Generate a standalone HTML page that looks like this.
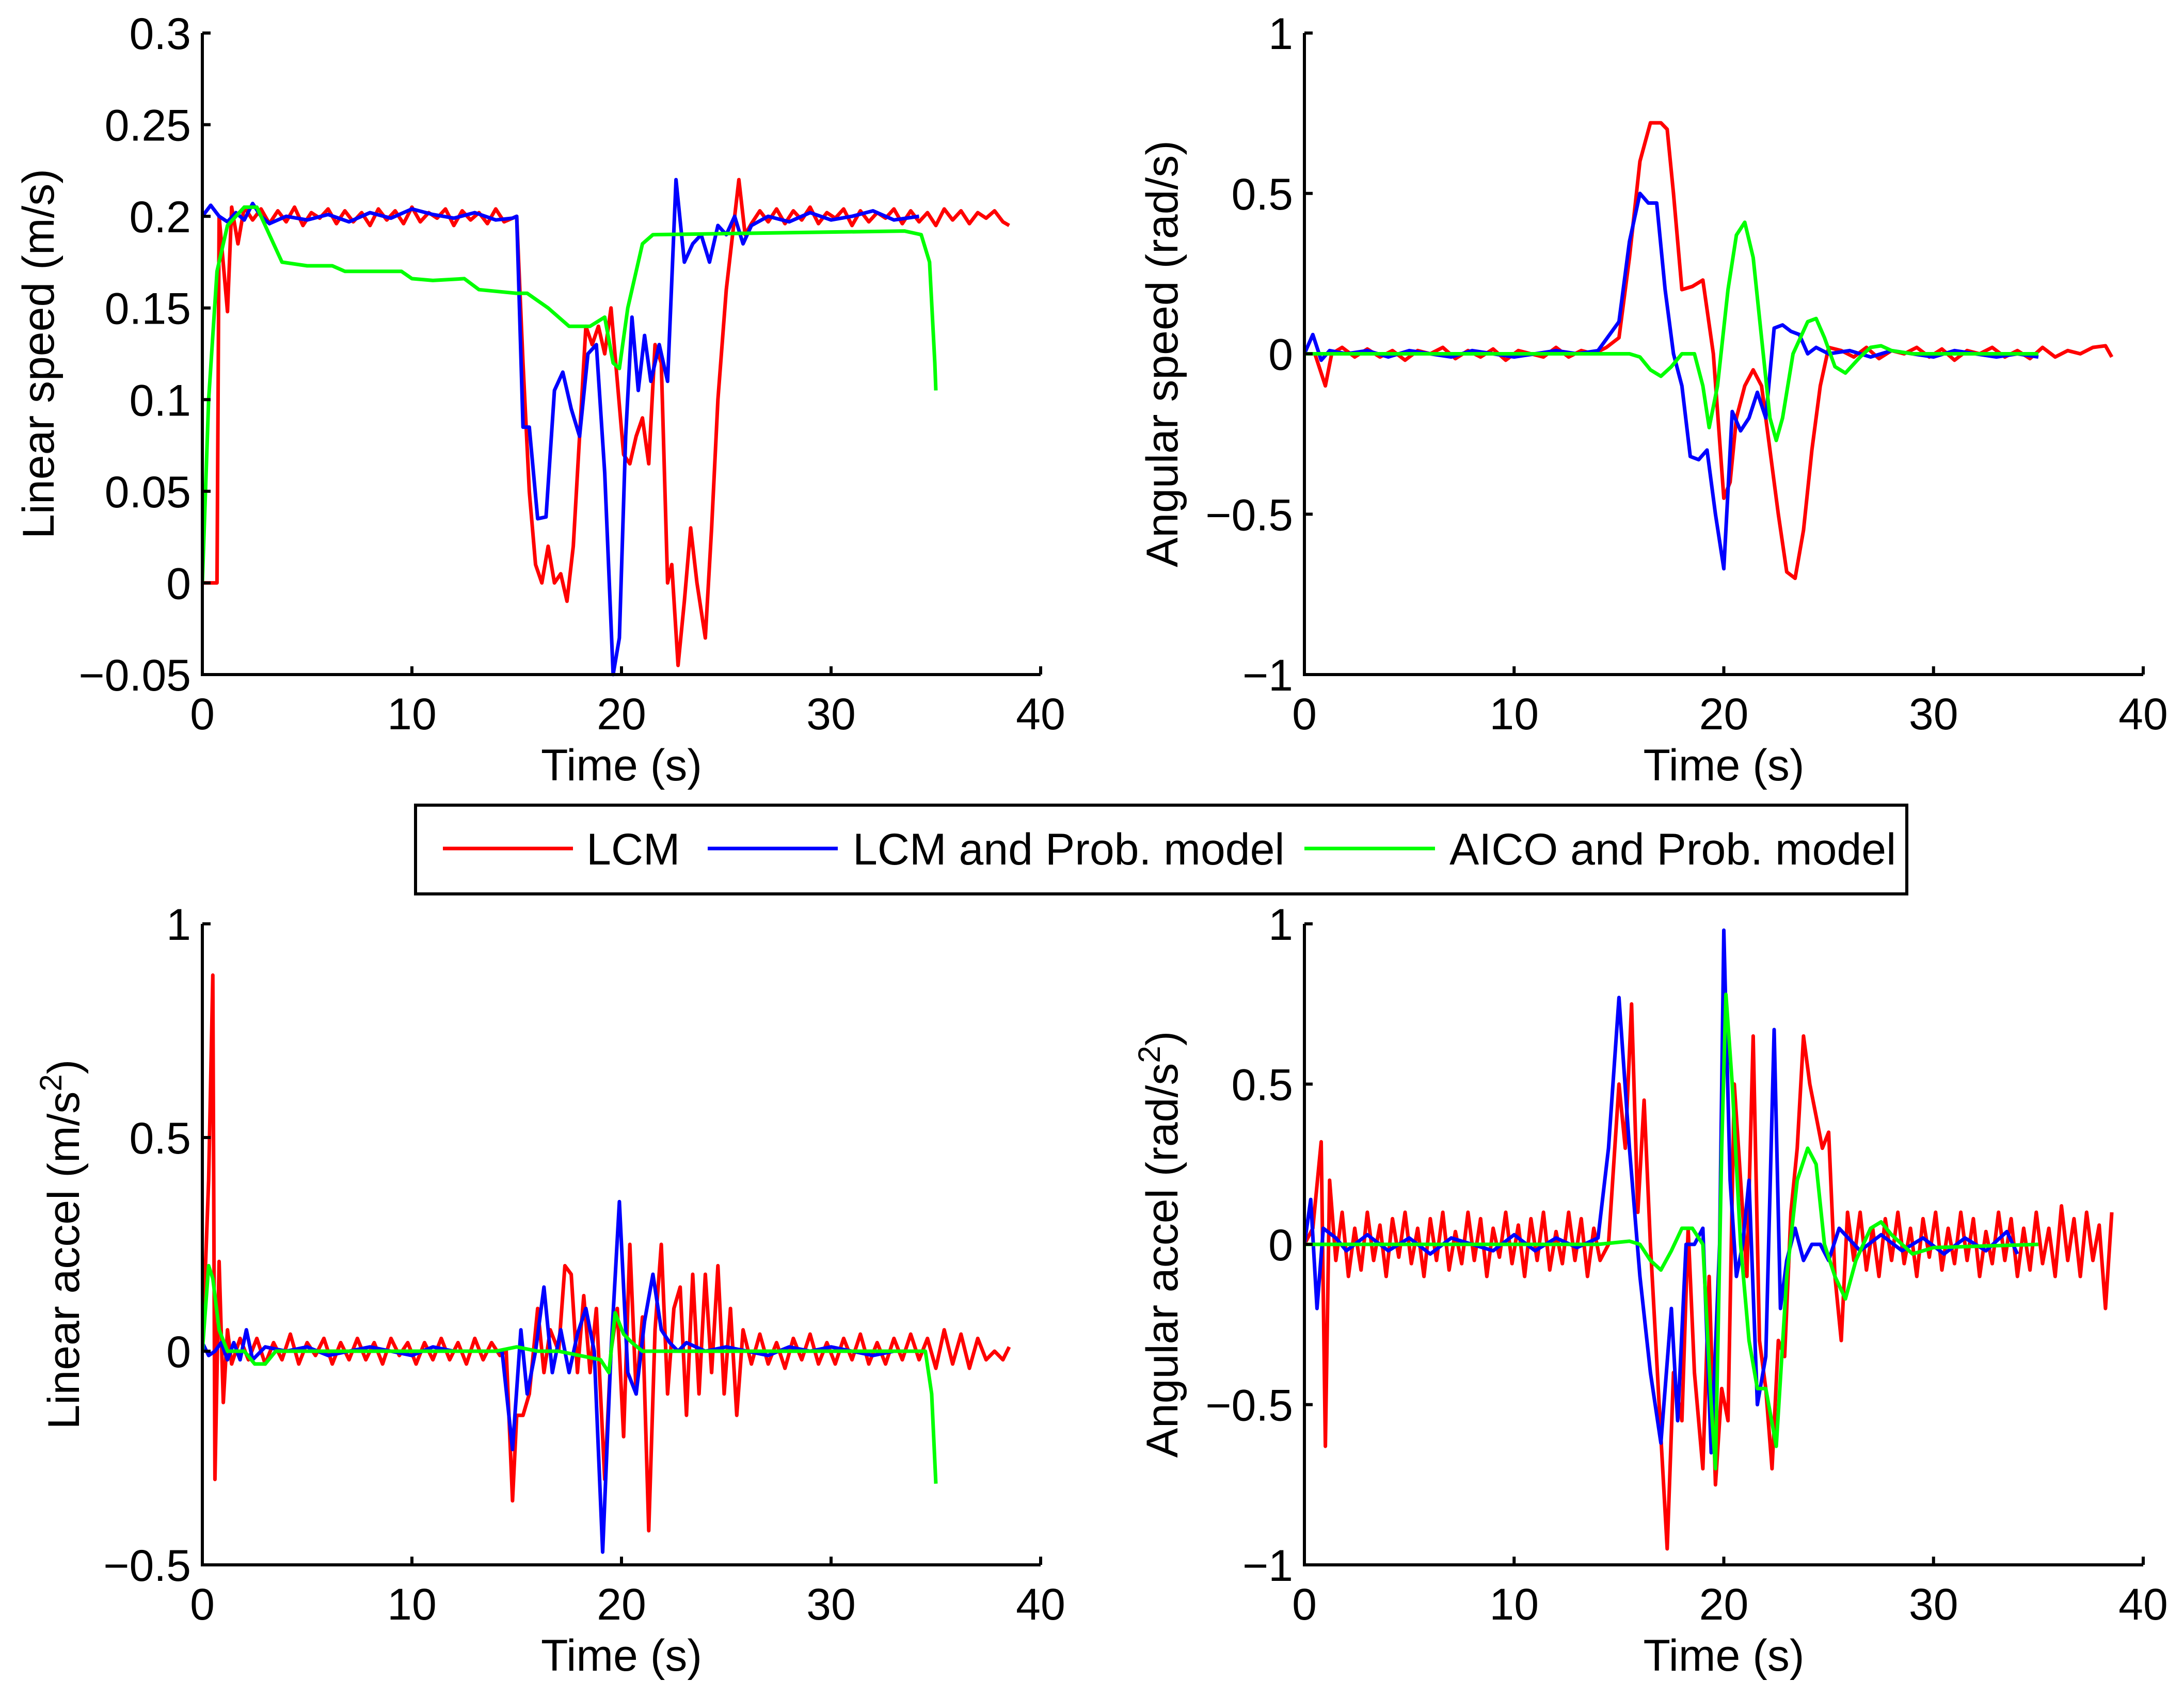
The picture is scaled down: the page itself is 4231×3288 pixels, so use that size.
<!DOCTYPE html>
<html><head><meta charset="utf-8"><style>
html,body{margin:0;padding:0;background:#fff;}
svg{display:block;font-family:"Liberation Sans",Arial,sans-serif;}
</style></head>
<body>
<svg id="fig" width="4231" height="3288" viewBox="0 0 4231 3288" xmlns="http://www.w3.org/2000/svg">
<rect width="4231" height="3288" fill="#fff"/>
<g id="legend">
<rect x="805" y="1560" width="2889" height="172" fill="#fff" stroke="#000" stroke-width="6"/>
<line x1="858" y1="1644" x2="1110" y2="1644" stroke="#ff0000" stroke-width="7"/>
<text x="1136" y="1675" font-size="86">LCM</text>
<line x1="1371" y1="1644" x2="1623" y2="1644" stroke="#0000ff" stroke-width="7"/>
<text x="1652" y="1675" font-size="86">LCM and Prob. model</text>
<line x1="2527" y1="1644" x2="2780" y2="1644" stroke="#00ff00" stroke-width="7"/>
<text x="2808" y="1675" font-size="86">AICO and Prob. model</text>
</g>
</svg>
<script>
// ---------- DATA ----------
// Panel 1: Linear speed
const p1RedT=[0,0.7,0.8,1.2,1.4,1.7,2.0,2.4,2.8,3.2,3.6,4.0,4.4,4.8,5.2,5.6,6.0,6.4,6.8,7.2,7.6,8.0,8.4,8.8,9.2,9.6,10.0,10.4,10.8,11.2,11.6,12.0,12.4,12.8,13.2,13.6,14.0,14.4,14.8,15.0,15.3,15.6,15.9,16.2,16.5,16.8,17.1,17.4,17.7,18.0,18.3,18.6,18.9,19.2,19.5,19.8,20.1,20.4,20.7,21.0,21.3,21.6,21.9,22.2,22.4,22.7,23.0,23.3,23.6,24.0,24.3,24.6,25.0,25.3,25.6,25.9,26.2,26.6,27.0,27.4,27.8,28.2,28.6,29.0,29.4,29.8,30.2,30.6,31.0,31.4,31.8,32.2,32.6,33.0,33.4,33.8,34.2,34.6,35.0,35.4,35.8,36.2,36.6,37.0,37.4,37.8,38.2,38.5];
const p1RedV=[0,0,0.2,0.148,0.205,0.185,0.205,0.198,0.204,0.196,0.203,0.197,0.205,0.195,0.202,0.199,0.204,0.196,0.203,0.197,0.202,0.195,0.204,0.198,0.203,0.196,0.205,0.197,0.202,0.199,0.204,0.195,0.203,0.198,0.202,0.196,0.204,0.197,0.199,0.2,0.12,0.05,0.01,0.0,0.02,0.0,0.005,-0.01,0.02,0.08,0.14,0.13,0.14,0.125,0.15,0.11,0.07,0.065,0.08,0.09,0.065,0.13,0.12,0.0,0.01,-0.045,-0.01,0.03,0.0,-0.03,0.03,0.1,0.16,0.19,0.22,0.19,0.196,0.203,0.197,0.204,0.196,0.203,0.198,0.205,0.196,0.202,0.199,0.204,0.195,0.203,0.197,0.202,0.199,0.204,0.196,0.203,0.197,0.202,0.195,0.204,0.198,0.203,0.196,0.202,0.199,0.203,0.197,0.195];
const p1BlueT=[0,0.4,0.8,1.2,1.6,2.0,2.4,2.8,3.2,4,5,6,7,8,9,10,11,12,13,14,14.8,15.0,15.3,15.6,16.0,16.4,16.8,17.2,17.6,18.0,18.4,18.8,19.2,19.6,19.9,20.2,20.5,20.8,21.1,21.4,21.8,22.2,22.6,23.0,23.4,23.8,24.2,24.6,25.0,25.4,25.8,26.2,27,28,29,30,31,32,33,34.2];
const p1BlueV=[0.2,0.206,0.2,0.197,0.202,0.198,0.207,0.2,0.196,0.2,0.198,0.201,0.197,0.202,0.199,0.204,0.201,0.199,0.202,0.198,0.199,0.2,0.085,0.085,0.035,0.036,0.105,0.115,0.095,0.08,0.125,0.13,0.06,-0.05,-0.03,0.08,0.145,0.105,0.135,0.11,0.13,0.11,0.22,0.175,0.185,0.19,0.175,0.195,0.19,0.2,0.185,0.195,0.2,0.197,0.202,0.198,0.2,0.203,0.198,0.2];
const p1GreenT=[0,0.3,0.7,1.2,2,2.6,3.2,3.8,5,6.2,6.8,9.5,10,11,12.5,13.2,15,15.5,16.5,17.5,18.5,19.2,19.6,19.9,20.3,21,21.5,33.5,34.3,34.7,34.95,35.0];
const p1GreenV=[0,0.1,0.17,0.195,0.205,0.205,0.19,0.175,0.173,0.173,0.17,0.17,0.166,0.165,0.166,0.16,0.158,0.158,0.15,0.14,0.14,0.145,0.12,0.117,0.15,0.185,0.19,0.192,0.19,0.175,0.12,0.105];
// Panel 2: Angular speed
const p2RedT=[0,0.5,1.0,1.3,1.8,2.4,3,3.6,4.2,4.8,5.4,6,6.6,7.2,7.8,8.4,9,9.6,10.2,10.8,11.4,12,12.6,13.2,13.8,14.4,15,15.5,16,16.5,17,17.3,17.6,18,18.5,19,19.5,20,20.3,20.6,21,21.4,21.8,22.2,22.6,23,23.4,23.8,24.2,24.6,25,25.6,26.2,26.8,27.4,28,28.6,29.2,29.8,30.4,31,31.6,32.2,32.8,33.4,34,34.6,35.2,35.8,36.4,37,37.6,38.2,38.5];
const p2RedV=[0,0.0,-0.1,0.0,0.02,-0.01,0.015,-0.01,0.01,-0.02,0.01,0.0,0.02,-0.015,0.01,-0.01,0.015,-0.02,0.01,0.0,-0.01,0.02,-0.01,0.01,0.0,0.02,0.05,0.3,0.6,0.72,0.72,0.7,0.5,0.2,0.21,0.23,0.0,-0.45,-0.4,-0.2,-0.1,-0.05,-0.1,-0.3,-0.5,-0.68,-0.7,-0.55,-0.3,-0.1,0.02,0.01,-0.01,0.02,-0.015,0.01,0.0,0.02,-0.01,0.015,-0.02,0.01,0.0,0.02,-0.01,0.01,-0.015,0.02,-0.01,0.01,0.0,0.02,0.025,-0.01];
const p2BlueT=[0,0.4,0.8,1.2,2,3,4,5,6,7,8,9,10,11,12,13,14,15,15.5,16,16.4,16.8,17.2,17.6,18.0,18.4,18.8,19.2,19.6,20.0,20.4,20.8,21.2,21.6,22.0,22.4,22.8,23.2,23.6,24.0,24.4,25,26,27,28,29,30,31,32,33,34,35];
const p2BlueV=[0,0.06,-0.02,0.01,0.0,0.01,-0.01,0.01,0.0,-0.01,0.01,0.0,-0.01,0.0,0.01,0.0,0.01,0.1,0.35,0.5,0.47,0.47,0.2,0.0,-0.1,-0.32,-0.33,-0.3,-0.5,-0.67,-0.18,-0.24,-0.2,-0.12,-0.2,0.08,0.09,0.07,0.06,0.0,0.02,0.0,0.01,-0.01,0.01,0.0,-0.01,0.01,0.0,-0.01,0.0,-0.01];
const p2GreenT=[0,5,10,15.5,16,16.5,17,17.5,18,18.6,19,19.3,19.7,20.2,20.6,21.0,21.4,21.8,22.2,22.5,22.8,23.3,24,24.4,24.8,25.3,25.8,26.5,27,27.5,28,29,35];
const p2GreenV=[0,0,0,0,-0.01,-0.05,-0.07,-0.04,0,0,-0.1,-0.23,-0.1,0.2,0.37,0.41,0.3,0.05,-0.2,-0.27,-0.2,0,0.1,0.11,0.05,-0.04,-0.06,-0.01,0.02,0.025,0.01,0,0];
// Panel 3: Linear accel
const p3RedT=[0,0.3,0.5,0.6,0.8,1.0,1.2,1.4,1.8,2.2,2.6,3,3.4,3.8,4.2,4.6,5,5.4,5.8,6.2,6.6,7,7.4,7.8,8.2,8.6,9,9.4,9.8,10.2,10.6,11,11.4,11.8,12.2,12.6,13,13.4,13.8,14.2,14.5,14.8,15.0,15.3,15.6,16,16.3,16.6,17,17.3,17.6,17.9,18.2,18.5,18.8,19.2,19.5,19.8,20.1,20.4,20.7,21.0,21.3,21.6,21.9,22.2,22.5,22.8,23.1,23.4,23.7,24,24.3,24.6,24.9,25.2,25.5,25.8,26.2,26.6,27,27.4,27.8,28.2,28.6,29,29.4,29.8,30.2,30.6,31,31.4,31.8,32.2,32.6,33,33.4,33.8,34.2,34.6,35,35.4,35.8,36.2,36.6,37,37.4,37.8,38.2,38.5];
const p3RedV=[0,0.4,0.88,-0.3,0.21,-0.12,0.05,-0.03,0.03,-0.02,0.03,-0.03,0.02,-0.02,0.04,-0.03,0.02,-0.01,0.03,-0.03,0.02,-0.02,0.03,-0.02,0.02,-0.03,0.03,-0.01,0.02,-0.03,0.02,-0.02,0.03,-0.02,0.02,-0.03,0.03,-0.02,0.02,-0.01,0.0,-0.35,-0.15,-0.15,-0.1,0.1,-0.05,0.05,0.0,0.2,0.18,-0.05,0.13,-0.05,0.1,-0.3,0.0,0.1,-0.2,0.25,-0.1,0.08,-0.42,0.05,0.25,-0.1,0.1,0.15,-0.15,0.18,-0.1,0.18,-0.05,0.2,-0.1,0.1,-0.15,0.05,-0.03,0.04,-0.03,0.02,-0.04,0.03,-0.02,0.04,-0.03,0.02,-0.03,0.03,-0.02,0.04,-0.03,0.02,-0.03,0.03,-0.02,0.04,-0.02,0.03,-0.04,0.05,-0.03,0.04,-0.04,0.03,-0.02,0.0,-0.02,0.01];
const p3BlueT=[0,0.3,0.6,0.9,1.2,1.5,1.8,2.1,2.4,3,4,5,6,7,8,9,10,11,12,13,14.3,14.8,15.2,15.5,15.9,16.3,16.7,17.1,17.5,17.9,18.3,18.7,19.1,19.5,19.9,20.3,20.7,21.1,21.5,21.9,22.3,22.7,23.1,24,25,26,27,28,29,30,31,32,33,34.2];
const p3BlueV=[0.02,-0.01,0,0.02,-0.02,0.02,-0.02,0.05,-0.02,0.01,0,0.01,-0.01,0,0.01,0,-0.01,0.01,0,0,0,-0.23,0.05,-0.1,0,0.15,-0.05,0.05,-0.05,0.04,0.1,0,-0.47,0,0.35,-0.05,-0.1,0.07,0.18,0.05,0.02,0,0.02,0,0.01,0,-0.01,0.01,0,0.01,0,-0.01,0,0];
const p3GreenT=[0,0.3,0.5,0.8,1.2,2,2.5,3,3.5,14,15,16,17,18,19,19.4,19.7,20.1,20.5,21,34.5,34.8,35];
const p3GreenV=[0,0.2,0.17,0.05,0,0,-0.03,-0.03,0,0,0.01,0,0,-0.01,-0.02,-0.05,0.09,0.04,0.02,0,0,-0.1,-0.31];
// Panel 4: Angular accel
const p4RedT=[0,0.4,0.8,1.0,1.2,1.5,1.8,2.1,2.4,2.7,3,3.3,3.6,3.9,4.2,4.5,4.8,5.1,5.4,5.7,6,6.3,6.6,6.9,7.2,7.5,7.8,8.1,8.4,8.7,9,9.3,9.6,9.9,10.2,10.5,10.8,11.1,11.4,11.7,12,12.3,12.6,12.9,13.2,13.5,13.8,14.1,14.5,15,15.3,15.6,15.9,16.2,16.5,17.0,17.3,17.6,18,18.3,18.6,19,19.3,19.6,19.9,20.2,20.5,20.8,21.1,21.4,21.7,22.0,22.3,22.6,22.9,23.2,23.5,23.8,24.1,24.4,24.7,25.0,25.3,25.6,25.9,26.2,26.5,26.8,27.1,27.4,27.7,28,28.3,28.6,28.9,29.2,29.5,29.8,30.1,30.4,30.7,31,31.3,31.6,31.9,32.2,32.5,32.8,33.1,33.4,33.7,34,34.3,34.6,34.9,35.2,35.5,35.8,36.1,36.4,36.7,37,37.3,37.6,37.9,38.2,38.5];
const p4RedV=[0,0.05,0.32,-0.63,0.2,-0.05,0.1,-0.1,0.05,-0.08,0.1,-0.05,0.06,-0.1,0.08,-0.04,0.1,-0.06,0.05,-0.1,0.08,-0.05,0.1,-0.08,0.04,-0.06,0.1,-0.05,0.08,-0.1,0.05,-0.04,0.1,-0.06,0.06,-0.1,0.08,-0.05,0.1,-0.08,0.04,-0.06,0.1,-0.05,0.08,-0.1,0.05,-0.05,0.0,0.5,0.3,0.75,0.1,0.45,0.0,-0.6,-0.95,-0.4,-0.55,0.05,-0.4,-0.7,-0.1,-0.75,-0.45,-0.55,0.5,0.2,-0.1,0.65,-0.3,-0.45,-0.7,-0.3,-0.35,0.1,0.3,0.65,0.5,0.4,0.3,0.35,-0.1,-0.3,0.1,-0.05,0.1,-0.08,0.05,-0.1,0.08,-0.05,0.1,-0.06,0.05,-0.1,0.08,-0.04,0.1,-0.08,0.05,-0.06,0.1,-0.05,0.08,-0.1,0.04,-0.06,0.1,-0.05,0.08,-0.1,0.05,-0.08,0.1,-0.06,0.05,-0.1,0.12,-0.05,0.08,-0.1,0.1,-0.05,0.06,-0.2,0.1];
const p4BlueT=[0,0.3,0.6,0.9,1.5,2,3,4,5,6,7,8,9,10,11,12,13,14,14.5,15.0,15.5,16.0,16.5,17.0,17.5,17.8,18.2,18.6,19.0,19.4,19.8,20.0,20.3,20.6,20.9,21.2,21.6,22.0,22.4,22.7,23.0,23.4,23.8,24.2,24.6,25,25.5,26.5,27.5,28.5,29.5,30.5,31.5,32.5,33.5,34];
const p4BlueV=[0,0.14,-0.2,0.05,0.02,-0.02,0.03,-0.02,0.02,-0.03,0.02,0,-0.02,0.03,-0.02,0.02,-0.01,0.02,0.3,0.77,0.3,-0.1,-0.4,-0.62,-0.2,-0.55,0,0,0.05,-0.65,0,0.98,0.2,-0.1,0,0.2,-0.5,-0.35,0.67,-0.2,-0.05,0.05,-0.05,0,0,-0.05,0.05,-0.02,0.03,-0.02,0.02,-0.03,0.02,-0.02,0.04,-0.03];
const p4GreenT=[0,14,15.5,16,16.5,17,17.5,18,18.5,19,19.4,19.6,19.9,20.1,20.4,20.8,21.2,21.6,22.0,22.5,23.0,23.5,24,24.4,24.8,25.3,25.8,26.3,27,27.5,28,29,30,35];
const p4GreenV=[0,0,0.01,0,-0.05,-0.08,-0.02,0.05,0.05,0,-0.5,-0.7,0.3,0.78,0.5,0,-0.3,-0.45,-0.45,-0.63,-0.1,0.2,0.3,0.25,0,-0.1,-0.17,-0.05,0.05,0.07,0.03,-0.03,-0.01,0];
const xTicks=[0,10,20,30,40];
const p1YTicks=[-0.05,0,0.05,0.1,0.15,0.2,0.25,0.3];
const p1YLabels=["\u22120.05","0","0.05","0.1","0.15","0.2","0.25","0.3"];
const p2YTicks=[-1,-0.5,0,0.5,1];
const p2YLabels=["\u22121","\u22120.5","0","0.5","1"];
const p3YTicks=[-0.5,0,0.5,1];
const p3YLabels=["\u22120.5","0","0.5","1"];
const p4YTicks=[-1,-0.5,0,0.5,1];
const p4YLabels=["\u22121","\u22120.5","0","0.5","1"];

// ---------- RENDER ----------
const NS="http://www.w3.org/2000/svg";
const svg=document.getElementById('fig');
function mk(tag,attrs,parent){const e=document.createElementNS(NS,tag);for(const k in attrs)e.setAttribute(k,attrs[k]);(parent||svg).appendChild(e);return e;}
const panels=[
 {name:'linear-speed',x0:392,x1:2016,y0:64,y1:1307,ymin:-0.05,ymax:0.3,yt:p1YTicks,yl:p1YLabels,title:'Linear speed (m/s)',sup:null,labX:73,
  series:[[p1RedT,p1RedV,'#ff0000','lcm'],[p1BlueT,p1BlueV,'#0000ff','lcm-prob'],[p1GreenT,p1GreenV,'#00ff00','aico-prob']]},
 {name:'angular-speed',x0:2527,x1:4152,y0:64,y1:1307,ymin:-1,ymax:1,yt:p2YTicks,yl:p2YLabels,title:'Angular speed (rad/s)',sup:null,labX:2250,
  series:[[p2RedT,p2RedV,'#ff0000','lcm'],[p2BlueT,p2BlueV,'#0000ff','lcm-prob'],[p2GreenT,p2GreenV,'#00ff00','aico-prob']]},
 {name:'linear-accel',x0:392,x1:2016,y0:1790,y1:3032,ymin:-0.5,ymax:1,yt:p3YTicks,yl:p3YLabels,title:'Linear accel (m/s',sup:'2',labX:122,
  series:[[p3RedT,p3RedV,'#ff0000','lcm'],[p3BlueT,p3BlueV,'#0000ff','lcm-prob'],[p3GreenT,p3GreenV,'#00ff00','aico-prob']]},
 {name:'angular-accel',x0:2527,x1:4152,y0:1790,y1:3032,ymin:-1,ymax:1,yt:p4YTicks,yl:p4YLabels,title:'Angular accel (rad/s',sup:'2',labX:2250,
  series:[[p4RedT,p4RedV,'#ff0000','lcm'],[p4BlueT,p4BlueV,'#0000ff','lcm-prob'],[p4GreenT,p4GreenV,'#00ff00','aico-prob']]}
];
panels.forEach(p=>{
  const g=mk('g',{});
  
  
  const sx=t=>p.x0+(t-0)/(40-0)*(p.x1-p.x0);
  const sy=v=>p.y1-(v-p.ymin)/(p.ymax-p.ymin)*(p.y1-p.y0);
  const cid='clip-'+p.name;
  const cp=mk('clipPath',{id:cid},g);
  mk('rect',{x:p.x0,y:p.y0-4,width:p.x1-p.x0+4,height:p.y1-p.y0+8},cp);
  p.series.forEach(s=>{
    const pts=s[0].map((t,i)=>sx(t).toFixed(1)+','+sy(s[1][i]).toFixed(1)).join(' ');
    const pl=mk('polyline',{points:pts,fill:'none',stroke:s[2],'stroke-width':7,'stroke-linejoin':'round','clip-path':'url(#'+cid+')'},g);
    
    
  });
  const ax=mk('path',{d:`M${p.x0},${p.y0} L${p.x0},${p.y1} L${p.x1},${p.y1}`,fill:'none',stroke:'#000','stroke-width':6},g);
  
  
  xTicks.forEach(t=>{
    const x=sx(t);
    mk('line',{x1:x,y1:p.y1,x2:x,y2:p.y1-16,stroke:'#000','stroke-width':6},g);
    const tx=mk('text',{x:x,y:p.y1+106,'font-size':86,'text-anchor':'middle'},g);
    tx.textContent=String(t);
    
    
  });
  p.yt.forEach((v,i)=>{
    const y=sy(v);
    mk('line',{x1:p.x0,y1:y,x2:p.x0+16,y2:y,stroke:'#000','stroke-width':6},g);
    const ty=mk('text',{x:p.x0-22,y:y+31,'font-size':86,'text-anchor':'end'},g);
    ty.textContent=p.yl[i];
    
    
  });
  const xl=mk('text',{x:(p.x0+p.x1)/2,y:p.y1+205,'font-size':86,'text-anchor':'middle'},g);
  xl.textContent='Time (s)';
  
  
  const cy=(p.y0+p.y1)/2;
  const yl=mk('text',{x:0,y:0,'font-size':86,'text-anchor':'middle',transform:`translate(${p.labX+31},${cy}) rotate(-90)`},g);
  
  
  if(p.sup){
    const a=mk('tspan',{},yl);a.textContent=p.title;
    const b=mk('tspan',{dy:-34,'font-size':60},yl);b.textContent=p.sup;
    const c=mk('tspan',{dy:34},yl);c.textContent=')';
  } else yl.textContent=p.title;
});
svg.appendChild(document.getElementById('legend'));
</script>
</body></html>
